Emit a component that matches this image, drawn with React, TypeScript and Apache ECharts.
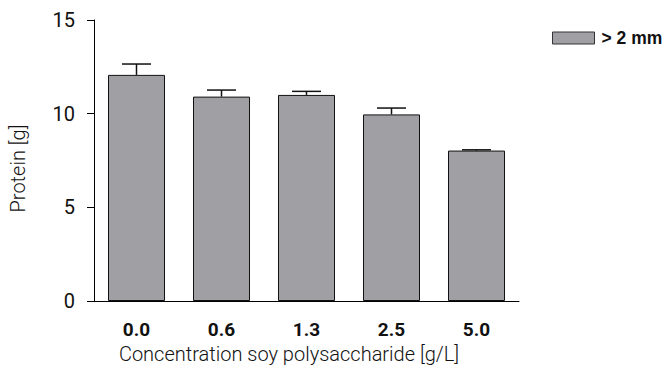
import React, { useEffect, useRef } from "react";
import * as echarts from "echarts";

const categories = ["0.0", "0.6", "1.3", "2.5", "5.0"];
const meanValues = [12.07, 10.91, 11.0, 9.96, 8.03];
const errorValues = [0.58, 0.35, 0.19, 0.34, 0.04];
const seriesName = "> 2 mm";
const yTicks = { min: 0, max: 15, interval: 5 };

export default function App() {
  const ref = useRef<HTMLDivElement>(null);
  useEffect(() => {
    document.body.style.margin = "0";
    const chart = echarts.init(ref.current!, null, { renderer: "svg" });
    const errData = meanValues.map((v, i) => [i, v, v + errorValues[i]]);
    chart.setOption({
      animation: false,
      backgroundColor: "#ffffff",
      grid: { left: 90, top: 20, right: 148, bottom: 64 },
      legend: {
        data: [{ name: seriesName, icon: "rect" }],
        left: 547,
        top: 24,
        padding: 5,
        itemWidth: 42,
        itemHeight: 12,
        itemGap: 6,
        itemStyle: { borderColor: "#333", borderWidth: 1 },
        textStyle: { fontFamily: "Liberation Sans", fontWeight: "bold", fontSize: 17.5, color: "#111", padding: [0, 0, 0, 2] },
      },
      xAxis: {
        type: "category",
        data: categories,
        axisLine: { lineStyle: { color: "#000", width: 1 } },
        axisTick: { alignWithLabel: true, length: 7, lineStyle: { color: "#000" } },
        axisLabel: { fontFamily: "Roboto", fontWeight: "bold", fontSize: 19, color: "#111", margin: 19 },
        name: "Concentration soy polysaccharide [g/L]",
        nameLocation: "middle",
        nameGap: 43,
        nameTextStyle: { fontFamily: "Roboto", fontWeight: 300, fontSize: 20, color: "#111", padding: [0, 35, 0, 0] },
      },
      yAxis: {
        type: "value",
        min: yTicks.min,
        max: yTicks.max,
        interval: yTicks.interval,
        splitLine: { show: false },
        axisLine: { show: true, lineStyle: { color: "#000", width: 1 } },
        axisTick: { show: true, length: 7, lineStyle: { color: "#000" } },
        axisLabel: { fontFamily: "Roboto", fontSize: 20, color: "#111", margin: 19 },
        name: "Protein [g]",
        nameLocation: "middle",
        nameGap: 66,
        nameTextStyle: { fontFamily: "Roboto", fontWeight: 300, fontSize: 20, color: "#111", padding: [0, 16, 0, 0] },
      },
      series: [
        {
          name: seriesName,
          type: "bar",
          data: meanValues,
          barWidth: 57,
          itemStyle: { color: "#a09fa4", borderColor: "#111", borderWidth: 1 },
          z: 2,
        },
        {
          type: "custom",
          data: errData,
          z: 3,
          renderItem: (params: any, api: any) => {
            const x = api.coord([api.value(0), api.value(1)]);
            const top = api.coord([api.value(0), api.value(2)]);
            const half = 14.5;
            const style = { stroke: "#111", lineWidth: 1.5 };
            return {
              type: "group",
              children: [
                { type: "line", shape: { x1: x[0], y1: x[1], x2: top[0], y2: top[1] }, style },
                { type: "line", shape: { x1: top[0] - half, y1: top[1], x2: top[0] + half, y2: top[1] }, style },
              ],
            };
          },
        },
      ],
    });
    return () => chart.dispose();
  }, []);
  return <div ref={ref} style={{ width: 667, height: 369, position: "fixed", left: 0, top: 0 }} />;
}
